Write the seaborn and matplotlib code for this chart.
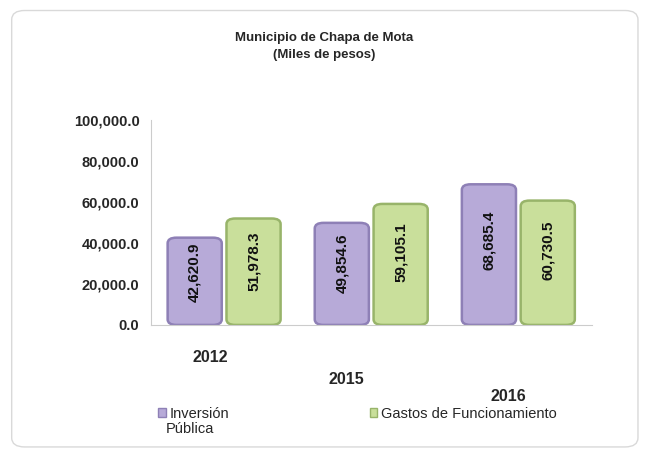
import pandas as pd
import matplotlib
matplotlib.use('Agg')
import matplotlib.pyplot as plt
import matplotlib.transforms as mtransforms
import seaborn as sns
from matplotlib.patches import FancyBboxPatch, Patch
from matplotlib.ticker import FuncFormatter

years = ['2012', '2015', '2016']
series = ['Inversión Pública', 'Gastos de Funcionamiento']
inversion = [42620.9, 49854.6, 68685.4]
gastos = [51978.3, 59105.1, 60730.5]
yticks = [0, 20000, 40000, 60000, 80000, 100000]

face = {'Inversión Pública': '#b7aad8', 'Gastos de Funcionamiento': '#c9df9b'}
edge = {'Inversión Pública': '#8e80b6', 'Gastos de Funcionamiento': '#98b46a'}

df = pd.DataFrame({'Año': years * 2,
                   'Serie': [series[0]] * 3 + [series[1]] * 3,
                   'Valor': inversion + gastos})

sns.set_style('white')
plt.rcParams['font.family'] = ['Liberation Sans', 'DejaVu Sans']

fig = plt.figure(figsize=(6.49, 4.57), dpi=100)
ax = fig.add_axes([0.232, 0.289, 0.68, 0.448])

sns.barplot(data=df, x='Año', y='Valor', hue='Serie', palette=face,
            width=0.8, legend=False, ax=ax)

# rounded "pillow" bars built from the bars seaborn drew
bars = [p for p in ax.patches]
for i, p in enumerate(bars):
    s = series[i // 3]
    x, y, w, h = p.get_x(), p.get_y(), p.get_width(), p.get_height()
    p.set_visible(False)
    gap = w * 0.04
    rb = FancyBboxPatch((x + gap, y), w - 2 * gap, h,
                        boxstyle='round,pad=0,rounding_size=0.06',
                        mutation_aspect=100000 / 2.2,
                        facecolor=face[s], edgecolor=edge[s], linewidth=1.8)
    ax.add_patch(rb)
    ax.text(x + w / 2, h * 0.6, f'{h:,.1f}', rotation=90, ha='center',
            va='center', fontsize=11, fontweight='bold', color='#111111')

ax.set_ylim(0, 100000)
ax.set_yticks(yticks)
ax.yaxis.set_major_formatter(FuncFormatter(lambda v, _: f'{v:,.1f}'))
ax.set_xlabel('')
ax.set_ylabel('')
ax.tick_params(axis='y', labelsize=10.5, length=4, color='#cccccc', pad=4)
ax.tick_params(axis='x', labelsize=11.5, length=0)
for t in ax.get_yticklabels() + ax.get_xticklabels():
    t.set_fontweight('bold')
# stagger the year labels like the perspective floor of the original
for tk, pad, dx in zip(ax.xaxis.get_major_ticks(), [18, 34, 46], [-10, -18, -7]):
    tk.set_pad(pad)
    off = mtransforms.ScaledTranslation(dx / 72, 0, fig.dpi_scale_trans)
    tk.label1.set_transform(tk.label1.get_transform() + off)
for sp in ['top', 'right']:
    ax.spines[sp].set_visible(False)
ax.spines['left'].set_color('#cccccc')
ax.spines['bottom'].set_color('#cccccc')

fig.text(0.5, 0.917, 'Municipio de Chapa de Mota', ha='center', va='center',
         fontsize=9.5, fontweight='bold')
fig.text(0.5, 0.88, '(Miles de pesos)', ha='center', va='center',
         fontsize=9.5, fontweight='bold')

handles = [Patch(facecolor=face[s], edgecolor=edge[s]) for s in series]
fig.legend(handles, ['Inversión', 'Gastos de Funcionamiento'],
           ncol=2, loc='upper left', bbox_to_anchor=(0.235, 0.123),
           frameon=False, fontsize=10.5, handlelength=0.5, handleheight=0.5,
           handletextpad=0.3, columnspacing=9.6, borderaxespad=0)
fig.text(0.256, 0.062, 'Pública', ha='left', va='center', fontsize=10.5)

frame = FancyBboxPatch((0.018, 0.022), 0.965, 0.955,
                       boxstyle='round,pad=0,rounding_size=0.02',
                       transform=fig.transFigure, facecolor='none',
                       edgecolor='#d9d9d9', linewidth=1.0)
fig.patches.append(frame)

fig.savefig('out.png', dpi=100, facecolor='white')
